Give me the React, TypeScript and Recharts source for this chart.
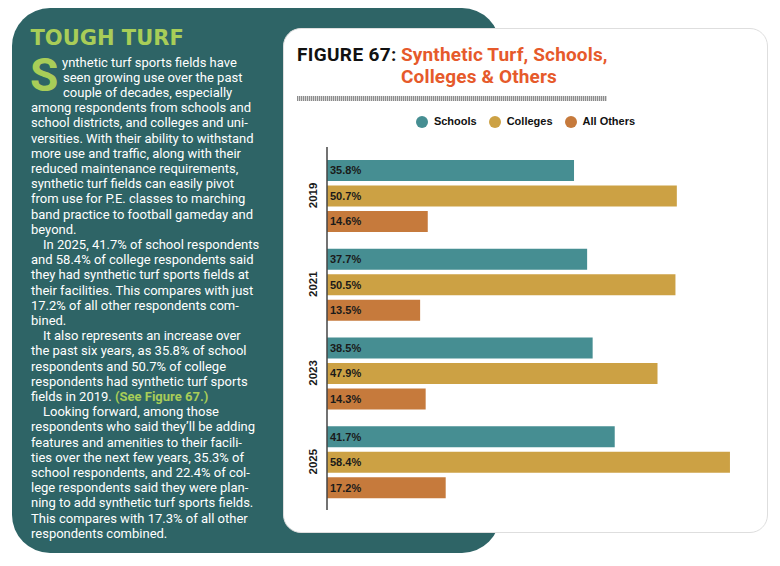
import React from 'react';
import { BarChart, Bar, XAxis, YAxis, Legend, LabelList } from 'recharts';

// Survey years (categories) and the share of respondents with synthetic turf fields
const years = ['2019', '2021', '2023', '2025'];
const schools = [35.8, 37.7, 38.5, 41.7];
const colleges = [50.7, 50.5, 47.9, 58.4];
const allOthers = [14.6, 13.5, 14.3, 17.2];

const seriesKeys = ['schools', 'colleges', 'others'];
const seriesNames = ['Schools', 'Colleges', 'All Others'];
const seriesColors = ['#468e92', '#cca144', '#c67a3c'];
const valueDomain = [0, 60];

const data = years.map((year, i) => ({
  year,
  schools: schools[i],
  colleges: colleges[i],
  others: allOthers[i],
}));

// Sidebar copy, one entry per printed line
const bodyLines: { text: string; pad?: number; green?: string }[] = [
  { text: 'ynthetic turf sports fields have', pad: 31 },
  { text: 'seen growing use over the past', pad: 32 },
  { text: 'couple of decades, especially', pad: 32 },
  { text: 'among respondents from schools and' },
  { text: 'school districts, and colleges and uni-' },
  { text: 'versities. With their ability to withstand' },
  { text: 'more use and traffic, along with their' },
  { text: 'reduced maintenance requirements,' },
  { text: 'synthetic turf fields can easily pivot' },
  { text: 'from use for P.E. classes to marching' },
  { text: 'band practice to football gameday and' },
  { text: 'beyond.' },
  { text: 'In 2025, 41.7% of school respondents', pad: 12 },
  { text: 'and 58.4% of college respondents said' },
  { text: 'they had synthetic turf sports fields at' },
  { text: 'their facilities. This compares with just' },
  { text: '17.2% of all other respondents com-' },
  { text: 'bined.' },
  { text: 'It also represents an increase over', pad: 12 },
  { text: 'the past six years, as 35.8% of school' },
  { text: 'respondents and 50.7% of college' },
  { text: 'respondents had synthetic turf sports' },
  { text: 'fields in 2019. ', green: '(See Figure 67.)' },
  { text: 'Looking forward, among those', pad: 12 },
  { text: 'respondents who said they\u2019ll be adding' },
  { text: 'features and amenities to their facili-' },
  { text: 'ties over the next few years, 35.3% of' },
  { text: 'school respondents, and 22.4% of col-' },
  { text: 'lege respondents said they were plan-' },
  { text: 'ning to add synthetic turf sports fields.' },
  { text: 'This compares with 17.3% of all other' },
  { text: 'respondents combined.' },
];

const TEAL = '#2e6466';
const LIME = '#a8cd58';
const ORANGE = '#e65a2b';
const ARIAL = '"Liberation Sans", Arial, sans-serif';

const fmt = (v: any) => `${Number(v).toFixed(1)}%`;

function YearTick(props: any) {
  const { x, y, payload } = props;
  const cx = x - 6;
  return (
    <text
      x={cx}
      y={y}
      transform={`rotate(-90 ${cx} ${y})`}
      textAnchor="middle"
      dominantBaseline="central"
      fontSize={11.5}
      fontWeight={700}
      fontFamily={ARIAL}
      fill="#1a1a1a"
    >
      {payload.value}
    </text>
  );
}

// Legend entries listed in series order (Schools, Colleges, All Others)
function LegendContent(props: any) {
  const items = [...(props.payload || [])].sort(
    (a: any, b: any) => seriesNames.indexOf(a.value) - seriesNames.indexOf(b.value)
  );
  return (
    <div
      style={{
        height: 26,
        display: 'flex',
        justifyContent: 'center',
        alignItems: 'center',
        gap: 12,
        fontFamily: ARIAL,
        fontSize: 11,
        fontWeight: 700,
        color: '#111',
      }}
    >
      {items.map((it: any) => (
        <div key={it.value} style={{ display: 'flex', alignItems: 'center', gap: 6 }}>
          <span
            style={{
              display: 'inline-block',
              width: 12,
              height: 12,
              borderRadius: '50%',
              background: it.color,
              marginTop: 2,
            }}
          />
          <span>{it.value}</span>
        </div>
      ))}
    </div>
  );
}

export default function App() {
  return (
    <div
      style={{
        position: 'absolute',
        left: 0,
        top: 0,
        width: 780,
        height: 566,
        overflow: 'hidden',
        background: '#ffffff',
      }}
    >
      {/* Sidebar panel */}
      <div
        style={{
          position: 'absolute',
          left: 12,
          top: 8,
          width: 488,
          height: 545,
          borderRadius: 38,
          background: TEAL,
        }}
      />
      <div
        style={{
          position: 'absolute',
          left: 30.5,
          top: 27.5,
          fontFamily: '"DejaVu Sans", sans-serif',
          fontWeight: 700,
          fontSize: 21,
          lineHeight: '21px',
          color: LIME,
          whiteSpace: 'pre',
        }}
      >
        TOUGH TURF
      </div>
      <div
        style={{
          position: 'absolute',
          left: 30,
          top: 51.5,
          fontFamily: 'Roboto, sans-serif',
          fontWeight: 700,
          fontSize: 46,
          lineHeight: '46px',
          color: LIME,
        }}
      >
        S
      </div>
      <div
        style={{
          position: 'absolute',
          left: 31,
          top: 54.6,
          fontFamily: 'Roboto, sans-serif',
          fontSize: 13,
          lineHeight: '15.2px',
          color: '#ffffff',
          whiteSpace: 'pre',
        }}
      >
        {bodyLines.map((ln, i) => (
          <div key={i} style={{ paddingLeft: ln.pad || 0 }}>
            {ln.text}
            {ln.green ? <span style={{ color: LIME, fontWeight: 700 }}>{ln.green}</span> : null}
          </div>
        ))}
      </div>

      {/* Chart card */}
      <div
        style={{
          position: 'absolute',
          left: 283,
          top: 28,
          width: 485,
          height: 505,
          boxSizing: 'border-box',
          borderRadius: 18,
          border: '1.5px solid #dedede',
          background: '#ffffff',
        }}
      />
      <div
        style={{
          position: 'absolute',
          left: 297,
          top: 44.4,
          fontFamily: 'Roboto, sans-serif',
          fontWeight: 700,
          fontSize: 19,
          lineHeight: '21.6px',
          letterSpacing: '0.35px',
          color: '#111111',
          whiteSpace: 'pre',
        }}
      >
        FIGURE 67:
      </div>
      <div
        style={{
          position: 'absolute',
          left: 401,
          top: 44.4,
          fontFamily: 'Roboto, sans-serif',
          fontWeight: 700,
          fontSize: 19,
          lineHeight: '21.6px',
          letterSpacing: '0.15px',
          color: ORANGE,
          whiteSpace: 'pre',
        }}
      >
        <div>Synthetic Turf, Schools,</div>
        <div>Colleges &amp; Others</div>
      </div>
      <div
        style={{
          position: 'absolute',
          left: 297,
          top: 96,
          width: 310,
          height: 4.5,
          background: 'repeating-linear-gradient(90deg, #8c8c8c 0px, #8c8c8c 1px, #d6d6d6 1px, #d6d6d6 2px)',
        }}
      />

      <div style={{ position: 'absolute', left: 283, top: 108, fontFamily: ARIAL }}>
        <BarChart
          width={485}
          height={417}
          data={data}
          layout="vertical"
          margin={{ top: 13, right: 27, bottom: 15, left: 7 }}
          barCategoryGap={9}
          barGap={4.5}
        >
          <XAxis type="number" domain={valueDomain} hide />
          <YAxis
            type="category"
            dataKey="year"
            width={37}
            tickLine={false}
            axisLine={{ stroke: '#444444', strokeWidth: 1.5 }}
            tick={<YearTick />}
            padding={{ top: 4, bottom: 4 }}
          />
          <Legend
            verticalAlign="top"
            align="center"
            content={<LegendContent />}
            wrapperStyle={{ top: 0, left: 0, width: 485, height: 26 }}
          />
          {seriesKeys.map((key, i) => (
            <Bar
              key={key}
              dataKey={key}
              name={seriesNames[i]}
              fill={seriesColors[i]}
              isAnimationActive={false}
            >
              <LabelList
                dataKey={key}
                position="insideLeft"
                offset={3}
                formatter={fmt}
                fill="#1a1a1a"
                fontSize={11}
                fontWeight={700}
                fontFamily={ARIAL}
              />
            </Bar>
          ))}
        </BarChart>
      </div>
    </div>
  );
}
